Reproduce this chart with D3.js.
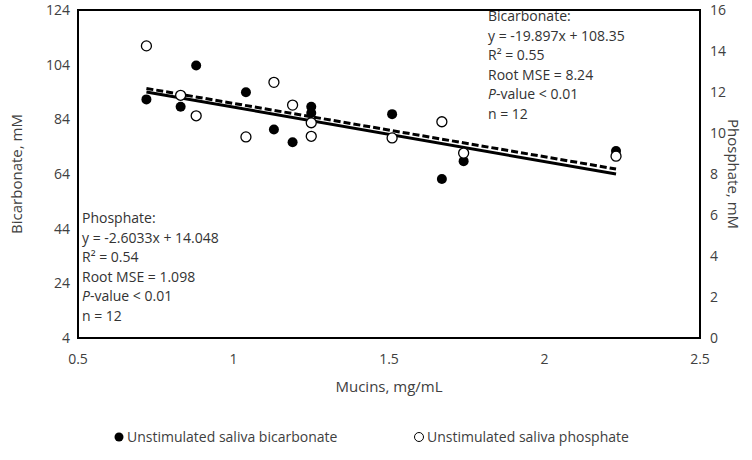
<!DOCTYPE html>
<html><head><meta charset="utf-8">
<script src="https://cdn.jsdelivr.net/npm/d3@7"></script>
<style>body{margin:0;background:#fff}text{font-family:"Open Sans",sans-serif;fill:#404040}</style>
</head><body><svg id="chart" width="752" height="460"></svg>
<script>
// values
const mucins = [0.72, 0.83, 0.88, 1.04, 1.13, 1.19, 1.25, 1.25, 1.51, 1.67, 1.74, 2.23];
const bicarbonate = [91.3, 88.6, 103.7, 93.9, 80.3, 75.6, 88.6, 86.3, 85.9, 62.2, 68.7, 72.4];
const phosphate = [14.25, 11.84, 10.84, 9.81, 12.47, 11.36, 10.5, 9.84, 9.76, 10.55, 9.02, 8.87];
const leftTicks = [4, 24, 44, 64, 84, 104, 124];
const rightTicks = [0, 2, 4, 6, 8, 10, 12, 14, 16];
const xTicks = [0.5, 1, 1.5, 2, 2.5];
const bicFit = [-19.897, 108.35];
const phoFit = [-2.6033, 14.048];
const fitRange = [0.72, 2.23];
const bicText = ["Bicarbonate:", "y = -19.897x + 108.35", "R² = 0.55", "Root MSE = 8.24", "P-value < 0.01", "n = 12"];
const phoText = ["Phosphate:", "y = -2.6033x + 14.048", "R² = 0.54", "Root MSE = 1.098", "P-value < 0.01", "n = 12"];

const svg = d3.select("#chart");
const m = {left: 78, right: 700, top: 10, bottom: 338};
const x = d3.scaleLinear().domain([0.5, 2.5]).range([m.left, m.right]);
const yL = d3.scaleLinear().domain([4, 124]).range([m.bottom, m.top]);
const yR = d3.scaleLinear().domain([0, 16]).range([m.bottom, m.top]);

svg.append("rect").attr("x", m.left).attr("y", m.top)
   .attr("width", m.right - m.left).attr("height", m.bottom - m.top)
   .attr("fill", "none").attr("stroke", "#000").attr("stroke-width", 2);

// tick labels
svg.append("g").selectAll("text").data(leftTicks).join("text")
   .attr("x", m.left - 8).attr("y", d => yL(d) + 5).attr("text-anchor", "end")
   .style("font-size", "14px").text(d => d);
svg.append("g").selectAll("text").data(rightTicks).join("text")
   .attr("x", m.right + 10).attr("y", d => yR(d) + 5)
   .style("font-size", "14px").text(d => d);
svg.append("g").selectAll("text").data(xTicks).join("text")
   .attr("x", d => x(d)).attr("y", m.bottom + 26).attr("text-anchor", "middle")
   .style("font-size", "14px").text(d => d);

svg.append("text").attr("x", (m.left + m.right) / 2).attr("y", m.bottom + 54)
   .attr("text-anchor", "middle").style("font-size", "15px").text("Mucins, mg/mL");
svg.append("text").attr("transform", `translate(22,${(m.top + m.bottom) / 2}) rotate(-90)`)
   .attr("text-anchor", "middle").style("font-size", "15px").text("Bicarbonate, mM");
svg.append("text").attr("transform", `translate(728,${(m.top + m.bottom) / 2}) rotate(90)`)
   .attr("text-anchor", "middle").style("font-size", "15px").text("Phosphate, mM");

// fit lines
const fitLine = (f, ys) => d3.line().x(d => x(d)).y(d => ys(f[0] * d + f[1]))(fitRange);
svg.append("path").attr("d", fitLine(bicFit, yL)).attr("stroke", "#000").attr("stroke-width", 3).attr("fill", "none");
svg.append("path").attr("d", fitLine(phoFit, yR)).attr("stroke", "#000").attr("stroke-width", 3)
   .attr("stroke-dasharray", "7,3").attr("fill", "none");

// points
svg.append("g").selectAll("circle").data(mucins).join("circle")
   .attr("cx", d => x(d)).attr("cy", (d, i) => yL(bicarbonate[i])).attr("r", 5).attr("fill", "#000");
svg.append("g").selectAll("circle").data(mucins).join("circle")
   .attr("cx", d => x(d)).attr("cy", (d, i) => yR(phosphate[i])).attr("r", 5)
   .attr("fill", "#fff").attr("stroke", "#000").attr("stroke-width", 1.3);

// annotations
function note(lines, x0, y0) {
  const t = svg.append("g").selectAll("text").data(lines).join("text")
     .attr("x", x0).attr("y", (d, i) => y0 + i * 19.5).style("font-size", "14px").style("fill", "#333");
  t.each(function(d) {
    const s = d3.select(this);
    if (d.startsWith("P-")) {
      s.append("tspan").style("font-style", "italic").text("P");
      s.append("tspan").text(d.slice(1));
    } else s.text(d);
  });
}
note(bicText, 488, 21);
note(phoText, 82, 223);

// legend
const lg = svg.append("g");
lg.append("circle").attr("cx", 119).attr("cy", 437).attr("r", 4.5).attr("fill", "#000");
lg.append("text").attr("x", 127).attr("y", 442).style("font-size", "14px").text("Unstimulated saliva bicarbonate");
lg.append("circle").attr("cx", 419).attr("cy", 437).attr("r", 4.5).attr("fill", "#fff").attr("stroke", "#000");
lg.append("text").attr("x", 427).attr("y", 442).style("font-size", "14px").text("Unstimulated saliva phosphate");
</script></body></html>
